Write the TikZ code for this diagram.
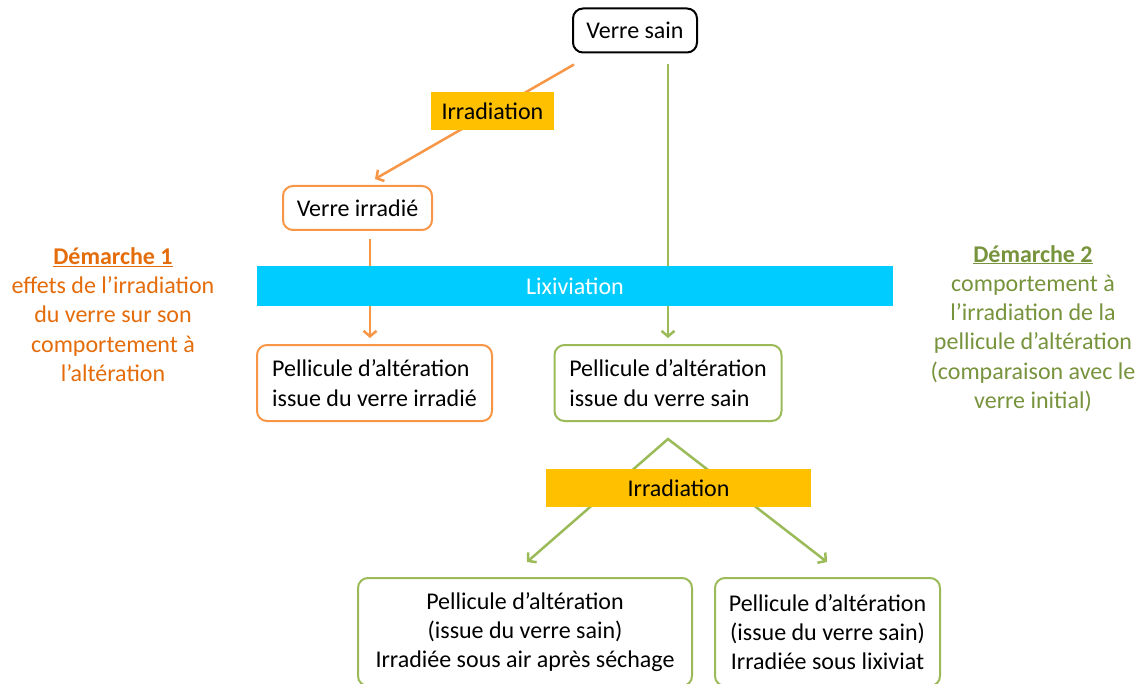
\documentclass[tikz,border=0pt]{standalone}
\usepackage{fontspec}
\setmainfont{Carlito}
\usetikzlibrary{arrows.meta,backgrounds}

\definecolor{orangetrait}{HTML}{F79646}
\definecolor{orangetexte}{HTML}{E46C0A}
\definecolor{verttrait}{HTML}{9BBB59}
\definecolor{verttexte}{HTML}{77933C}
\definecolor{jaune}{HTML}{FFC000}
\definecolor{cyan}{HTML}{00CCFF}

\tikzset{
  pointe/.tip={Straight Barb[length=5.5pt,width=13pt]},
  texte/.style={font=\fontsize{24}{29.3}\selectfont},
  boite/.style={texte, rounded corners=10pt, line width=2pt, fill=white, text=black, inner sep=0pt},
  etiquette/.style={texte, fill=jaune, text=black, inner sep=0pt},
  lien/.style={line width=2.5pt, -pointe}
}

\begin{document}
\begin{tikzpicture}[x=1pt, y=-1pt]
\useasboundingbox (0,0) rectangle (1142,684);
\clip (0,0) rectangle (1142,684);

% Boites
\node[boite, draw=black, minimum width=124, minimum height=44] (vs) at (635,30.5) {Verre sain};
\node[boite, draw=orangetrait, minimum width=149, minimum height=44] (virr) at (357.5,208) {Verre irradié};
\node[texte, fill=cyan, text=white, inner sep=0pt, minimum width=636, minimum height=40] (lix) at (575,286) {Lixiviation};
\node[boite, draw=orangetrait, align=left, minimum width=235, minimum height=76] (pirr) at (374.5,383)
    {Pellicule d’altération\\issue du verre irradié};
\node[boite, draw=verttrait, align=left, minimum width=227, minimum height=76] (psain) at (668,383)
    {Pellicule d’altération\\issue du verre sain};
\node[etiquette, minimum width=265, minimum height=38] (irr2) at (678.5,488) {Irradiation};
\node[boite, draw=verttrait, align=center, minimum width=334, minimum height=108] (bgauche) at (525,632)
    {Pellicule d’altération\\(issue du verre sain)\\Irradiée sous air après séchage};
\node[boite, draw=verttrait, align=center, minimum width=225, minimum height=108] (bdroite) at (827.5,632)
    {Pellicule d’altération\\(issue du verre sain)\\Irradiée sous lixiviat};

% Textes des demarches
\node[texte, text=orangetexte, align=center] (dem1) at (113,314.5)
    {\underline{\textbf{Démarche 1}}\\effets de l’irradiation\\du verre sur son\\comportement à\\l’altération};
\node[texte, text=verttexte, align=center] (dem2) at (1033,328.5)
    {\underline{\textbf{Démarche 2}}\\comportement à\\l’irradiation de la\\pellicule d’altération\\(comparaison avec le\\verre initial)};

% Fleches (sous les boites)
\begin{pgfonlayer}{background}
\draw[lien, orangetrait] ([shift={(2,11)}]vs.south west)
    -- node[etiquette, minimum width=123, minimum height=38, pos=0.41] (irr1) {Irradiation}
    ([shift={(17.5,-6)}]virr.north);
\draw[lien, orangetrait] ([shift={(12.5,8)}]virr.south) -- ([shift={(-4.5,-6)}]pirr.north);
\draw[lien, verttrait] ([shift={(33,11)}]vs.south) -- ([shift={(0,-6)}]psain.north);
\coordinate (sommet) at ([shift={(0,17)}]psain.south);
\draw[lien, verttrait, pointe-pointe] ([shift={(2,-15)}]bgauche.north) -- (sommet)
    -- ([shift={(-0.5,-15)}]bdroite.north);
\end{pgfonlayer}
\end{tikzpicture}
\end{document}
